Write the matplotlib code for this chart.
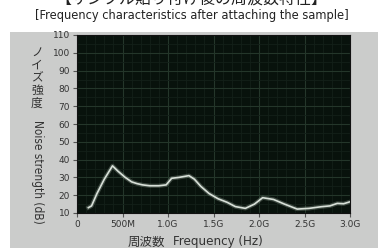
import matplotlib.pyplot as plt
from matplotlib.patches import Rectangle

# spectrum (GHz, dB)
freq_ghz = [0.125, 0.16, 0.22, 0.30, 0.39, 0.45, 0.53, 0.60, 0.66, 0.72, 0.80,
            0.90, 0.98, 1.04, 1.12, 1.23, 1.29, 1.36, 1.45, 1.55, 1.65, 1.74,
            1.85, 1.95, 2.04, 2.16, 2.28, 2.42, 2.55, 2.68, 2.78, 2.86, 2.93, 3.0]
noise_db = [13, 14, 21, 29, 36.5, 33.5, 30, 27.5, 26.5, 25.8, 25.3,
            25.3, 25.8, 29.5, 30, 31, 29, 25, 21, 18, 16, 13.6,
            12.6, 15, 18.6, 17.6, 15, 12.2, 12.6, 13.5, 14, 15.4, 15.2, 16.3]

x_ticks = [0, 0.5, 1.0, 1.5, 2.0, 2.5, 3.0]
x_labels = ['0', '500M', '1.0G', '1.5G', '2.0G', '2.5G', '3.0G']
y_ticks = list(range(10, 111, 10))

title_jp = '【サンプル貼り付け後の周波数特性】'
title_en = '[Frequency characteristics after attaching the sample]'
ylabel_jp = 'ノイズ強度'
ylabel_en = 'Noise strength (dB)'
xlabel_jp = '周波数'
xlabel_en = 'Frequency (Hz)'

jp_font = ['Noto Sans CJK JP', 'DejaVu Sans']
narrow = dict(family='DejaVu Sans', fontstretch='condensed')

fig = plt.figure(figsize=(3.83, 2.48), dpi=100)
fig.patch.set_facecolor('white')

# gray instrument panel
fig.patches.append(Rectangle((10 / 383, 0), 368 / 383, 1 - 32 / 248,
                             transform=fig.transFigure, facecolor='#cbcccb',
                             edgecolor='none', zorder=-5))

ax = fig.add_axes([77 / 383, 1 - 213 / 248, 273 / 383, 178 / 248])
ax.set_facecolor('#08120c')

ax.set_xlim(0, 3.0)
ax.set_ylim(10, 110)
ax.set_xticks(x_ticks)
ax.set_xticklabels(x_labels)
ax.set_yticks(y_ticks)
ax.set_xticks([i / 10 for i in range(31)], minor=True)
ax.set_yticks(list(range(10, 111, 5)), minor=True)

ax.grid(which='major', color='#24362a', linewidth=0.8)
ax.grid(which='minor', color='#132019', linewidth=0.6)
ax.tick_params(which='minor', length=0)
ax.tick_params(which='major', direction='out', length=3, width=0.8,
               color='#555555', labelsize=6.5, labelcolor='#333333', pad=2)
for s in ax.spines.values():
    s.set_color('#111111')

# trace with a soft glow
ax.plot(freq_ghz, noise_db, color='#9aa89c', linewidth=3, alpha=0.35)
ax.plot(freq_ghz, noise_db, color='#d8e0d8', linewidth=1.2)

# titles
fig.text(0.5, 1 + 1 / 248, title_jp, ha='center', va='center',
         fontsize=11.5, family=jp_font, color='#222222')
fig.text(0.5, 1 - 16 / 248, title_en, ha='center', va='center',
         fontsize=9.2, color='#222222', **narrow)

# vertical y label: Japanese stacked, English rotated
for i, ch in enumerate(ylabel_jp):
    fig.text(37 / 383, 1 - (53 + i * 12.5) / 248, ch, ha='center', va='center',
             fontsize=8.5, family=jp_font, color='#333333')
fig.text(37 / 383, 1 - 172 / 248, ylabel_en, ha='center', va='center',
         rotation=270, fontsize=8.5, color='#333333', **narrow)

fig.text(146 / 383, 1 - 242 / 248, xlabel_jp, ha='center', va='center',
         fontsize=9, family=jp_font, color='#333333')
fig.text(218 / 383, 1 - 242 / 248, xlabel_en, ha='center', va='center',
         fontsize=9.5, color='#333333', **narrow)

fig.savefig('out.png', dpi=100)
